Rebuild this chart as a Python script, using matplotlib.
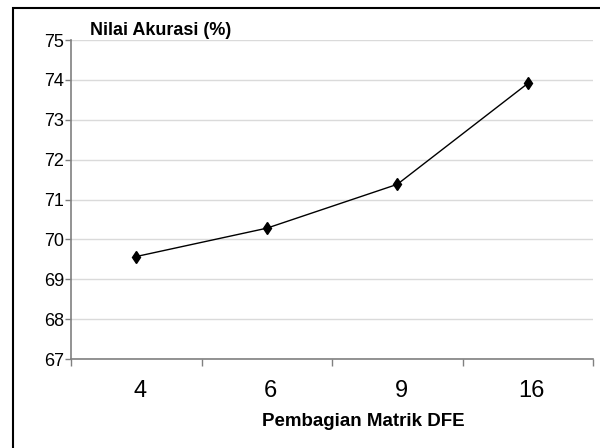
import matplotlib
matplotlib.use("Agg")
import matplotlib.pyplot as plt
import matplotlib.transforms as mtransforms
from matplotlib.patches import Rectangle

plt.rcParams["font.family"] = ["Liberation Sans", "DejaVu Sans"]

# data
categories = ["4", "6", "9", "16"]
accuracy = [69.57, 70.28, 71.38, 73.91]
y_ticks = [67, 68, 69, 70, 71, 72, 73, 74, 75]

W, H = 600, 448
fig = plt.figure(figsize=(W / 100, H / 100), dpi=100)
ax = fig.add_axes([71 / W, 1 - 359 / H, (593 - 71) / W, (359 - 40) / H])

x = list(range(len(categories)))
ax.plot(x, accuracy, color="black", lw=1.0, marker="d", markersize=6.5,
        markerfacecolor="black", markeredgecolor="black", zorder=3)

ax.set_xlim(-0.5, len(categories) - 0.5)
ax.set_ylim(67, 75)
ax.set_yticks(y_ticks)
ax.set_yticklabels([str(v) for v in y_ticks], fontsize=13)
ax.yaxis.grid(True, color="#dadada", lw=1.0)
ax.set_axisbelow(True)

# category labels, no marks; boundary ticks as minor ticks
ax.set_xticks(x)
ax.set_xticklabels(categories, fontsize=17)
ax.tick_params(axis="x", which="major", length=0, pad=15)
ax.set_xticks([i - 0.5 for i in range(len(categories) + 1)], minor=True)
ax.tick_params(axis="x", which="minor", length=5, width=1, color="#808080", direction="out")
ax.tick_params(axis="y", length=4, width=1, color="#808080", pad=1)
shift = mtransforms.ScaledTranslation(4 / 100, 0, fig.dpi_scale_trans)
for lab in ax.get_xticklabels():
    lab.set_transform(lab.get_transform() + shift)

for side in ["top", "right"]:
    ax.spines[side].set_visible(False)
for side in ["left", "bottom"]:
    ax.spines[side].set_color("#808080")
    ax.spines[side].set_linewidth(1.2)

fig.text(90 / W, 1 - 35 / H, "Nilai Akurasi (%)", fontsize=13, fontweight="bold",
         ha="left", va="baseline")
fig.text(363 / W, 1 - 426 / H, "Pembagian Matrik DFE", fontsize=13.5, fontweight="bold",
         ha="center", va="baseline")

# outer frame (runs off the right and bottom edges)
fig.patches.append(Rectangle((12.5 / W, -0.2), 1.0, 1.2 - 8.5 / H, transform=fig.transFigure,
                             fill=False, edgecolor="black", lw=1.5, clip_on=False))

fig.savefig("out.png", dpi=100, facecolor="white")
